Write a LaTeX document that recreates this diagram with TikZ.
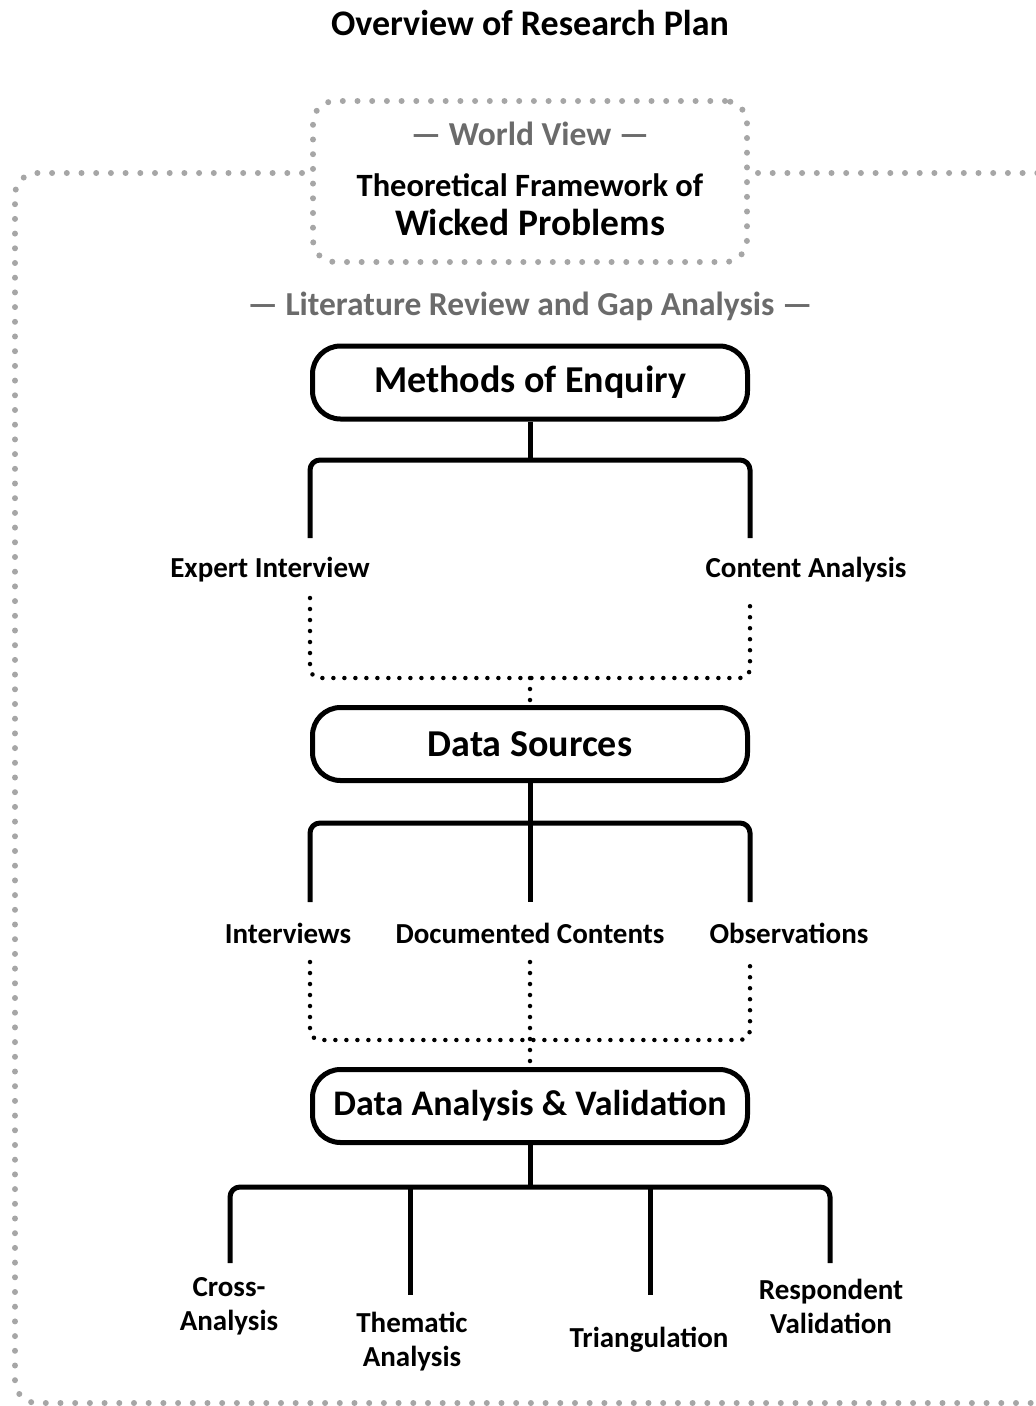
\documentclass[tikz,border=0pt]{standalone}
\usepackage{fontspec}
\setmainfont{Carlito}
\begin{document}
\begin{tikzpicture}[x=1pt,y=-1pt,
  every node/.style={font=\bfseries},
  box/.style={draw, line width=5pt, rounded corners=28pt, minimum width=435pt,
    minimum height=73pt, inner sep=0pt, font=\bfseries\fontsize{38}{42}\selectfont},
  conn/.style={line width=5pt, rounded corners=10pt},
  stem/.style={line width=5pt},
  dotk/.style={line width=4.5pt, line cap=round, dash pattern=on 0pt off 11pt, rounded corners=10pt},
  dotg/.style={draw=gray!70, line width=6pt, line cap=round, dash pattern=on 0pt off 14.7pt, rounded corners=22pt},
  lbl/.style={font=\bfseries\fontsize{29}{34}\selectfont, align=center, inner sep=0pt},
  grey/.style={text=black!58, font=\bfseries\fontsize{33.5}{36}\selectfont, inner sep=0pt}]
\useasboundingbox (0,0) rectangle (1036,1406);

% title
\node[font=\bfseries\fontsize{36}{40}\selectfont] (title) at (530,23) {Overview of Research Plan};

% world view frame and surrounding research frame
\node[dotg, draw, minimum width=434pt, minimum height=161pt] (wv) at (530,181.5) {};
\node[grey] (wvlabel) at (530,134) {— World View —};
\node[font=\bfseries\fontsize{32.5}{36}\selectfont, inner sep=0pt] (tf) at (530,185) {Theoretical Framework of};
\node[font=\bfseries\fontsize{37.5}{42}\selectfont, inner sep=0pt] (wp) at (530,222) {Wicked Problems};
\draw[dotg] (wv.west |- 0,173) ++(-8,0) -- (15,173) -- (15,1403) -- (1060,1403);
\draw[dotg] (wv.east |- 0,173) ++(8,0) -- (1060,173);

\node[grey] (lit) at (530,306) {— Literature Review and Gap Analysis —};

% methods of enquiry
\node[box] (me) at (530,382.5) {Methods of Enquiry};
\coordinate (meL) at (310,538);
\coordinate (meR) at (750,538);
\coordinate (meB) at (530,460);
\draw[stem] (me.south) -- (meB);
\draw[conn] (meL) |- (meB) -| (meR);
\node[lbl] (ei) at (270,570) {Expert Interview};
\node[lbl] (ca) at (806,570) {Content Analysis};

% data sources
\node[box] (ds) at (530,744) {Data Sources};
\coordinate (eiD) at (310,598);
\coordinate (caD) at (750,598);
\coordinate (dsT) at (530,678);
\draw[dotk] (eiD) |- (dsT) -| (caD);
\draw[dotk] (dsT) -- (ds.north);
\coordinate (dsL) at (310,902);
\coordinate (dsM) at (530,902);
\coordinate (dsR) at (750,902);
\coordinate (dsB) at (530,823);
\draw[stem] (ds.south) -- (dsM);
\draw[conn] (dsL) |- (dsB) -| (dsR);
\node[lbl] (iv) at (288,933) {Interviews};
\node[lbl] (dc) at (530,933) {Documented Contents};
\node[lbl] (ob) at (789,933) {Observations};

% data analysis and validation
\node[box, font=\bfseries\fontsize{36}{40}\selectfont] (dav) at (530,1106) {Data Analysis \& Validation};
\coordinate (ivD) at (310,962);
\coordinate (dcD) at (530,962);
\coordinate (obD) at (750,962);
\coordinate (davT) at (530,1040);
\draw[dotk] (ivD) |- (davT) -| (obD);
\draw[dotk] (dcD) -- (dav.north);

\coordinate (a1) at (230,1263);
\coordinate (a2) at (410,1295);
\coordinate (a3) at (650,1295);
\coordinate (a4) at (830,1263);
\coordinate (davB) at (530,1187);
\draw[stem] (dav.south) -- (davB);
\draw[conn] (a1) |- (davB) -| (a4);
\draw[stem] (a2 |- davB) -- (a2);
\draw[stem] (a3 |- davB) -- (a3);
\node[lbl] (ca1) at (229,1306) {Cross-\\Analysis};
\node[lbl] (ta) at (412,1342) {Thematic\\Analysis};
\node[lbl] (tr) at (649,1340) {Triangulation};
\node[lbl] (rv) at (831,1306) {Respondent\\Validation};
\end{tikzpicture}
\end{document}
